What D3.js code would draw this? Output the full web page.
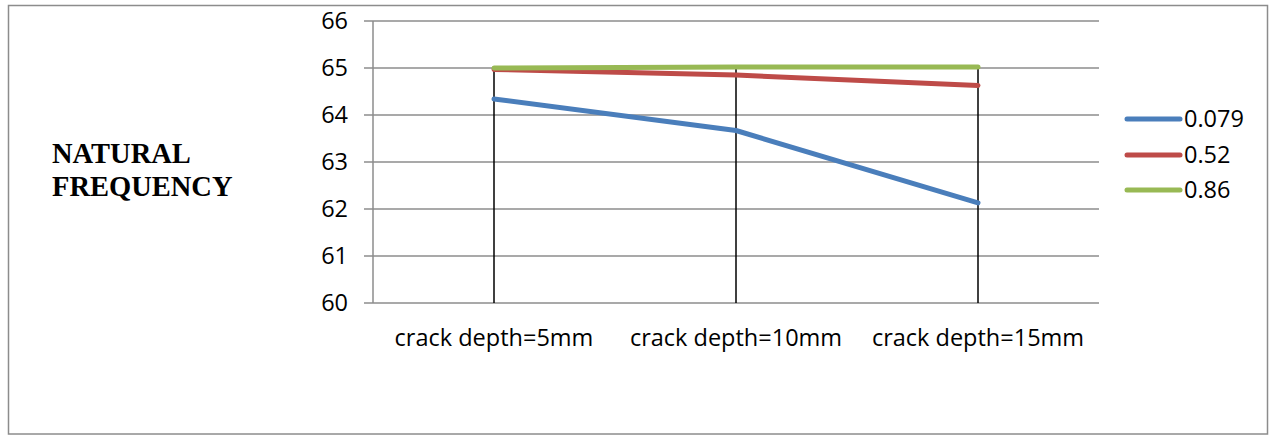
<!DOCTYPE html>
<html><head><meta charset="utf-8">
<script src="https://cdn.jsdelivr.net/npm/d3@7"></script>
<style>body{margin:0;background:#fff}svg{display:block}</style>
</head><body>
<svg id="c" width="1270" height="436"></svg>
<script>
const categories = ["crack depth=5mm", "crack depth=10mm", "crack depth=15mm"];
const seriesNames = ["0.079", "0.52", "0.86"];
const s0079 = [64.34, 63.67, 62.13];
const s052 = [64.97, 64.85, 64.63];
const s086 = [65.0, 65.02, 65.02];
const yTicks = [60, 61, 62, 63, 64, 65, 66];
const colors = ["#4a7ebb", "#be4b48", "#98b954"];
const series = [s0079, s052, s086];

(function () {
const svg = d3.select("#c");
const font = "'Open Sans', sans-serif";
const fs = 23.5;
svg.append("rect").attr("x", 8.5).attr("y", 5.5).attr("width", 1259).attr("height", 428.5)
  .attr("fill", "#fff").attr("stroke", "#8c8c8c").attr("stroke-width", 1.5);

const pL = 373, pR = 1099, pT = 21, pB = 303;
const x = d3.scaleBand().domain(categories).range([pL, pR]);
const y = d3.scaleLinear().domain([60, 66]).range([pB, pT]);

svg.append("g").selectAll("line").data(yTicks).join("line")
  .attr("x1", pL - 9).attr("x2", pR).attr("y1", d => y(d)).attr("y2", d => y(d))
  .attr("stroke", "#8c8c8c").attr("stroke-width", 1.5);
svg.append("line").attr("x1", pL).attr("x2", pL).attr("y1", pT).attr("y2", pB)
  .attr("stroke", "#8c8c8c").attr("stroke-width", 1.5);
svg.append("g").selectAll("text").data(yTicks).join("text")
  .attr("x", pL - 25).attr("y", d => y(d)).attr("dy", "0.35em").attr("text-anchor", "end")
  .attr("font-family", font).attr("font-size", fs).attr("fill", "#000").text(d => d);

svg.append("g").selectAll("line").data(categories).join("line")
  .attr("x1", d => x(d) + x.bandwidth() / 2).attr("x2", d => x(d) + x.bandwidth() / 2)
  .attr("y1", (d, i) => y(d3.max(series, s => s[i]))).attr("y2", pB)
  .attr("stroke", "#000").attr("stroke-width", 1.5);

svg.append("g").selectAll("text").data(categories).join("text")
  .attr("x", d => x(d) + x.bandwidth() / 2).attr("y", 338).attr("dy", "0.35em").attr("text-anchor", "middle")
  .attr("font-family", font).attr("font-size", fs).attr("fill", "#000").text(d => d);

const line = d3.line().x((d, i) => x(categories[i]) + x.bandwidth() / 2).y(d => y(d));
series.forEach((s, k) => {
  svg.append("path").attr("d", line(s)).attr("fill", "none").attr("stroke", colors[k])
    .attr("stroke-width", 5).attr("stroke-linecap", "round").attr("stroke-linejoin", "round");
});

const legY = [119, 155, 190];
seriesNames.forEach((n, k) => {
  svg.append("line").attr("x1", 1127).attr("x2", 1180).attr("y1", legY[k]).attr("y2", legY[k])
    .attr("stroke", colors[k]).attr("stroke-width", 5).attr("stroke-linecap", "round");
  svg.append("text").attr("x", 1184).attr("y", legY[k]).attr("dy", "0.35em")
    .attr("font-family", font).attr("font-size", fs).attr("fill", "#000").text(n);
});

const yt = svg.append("text").attr("font-family", "'Liberation Serif', serif").attr("font-weight", "bold")
  .attr("font-size", 28.5).attr("fill", "#000");
yt.append("tspan").attr("x", 52).attr("y", 163).text("NATURAL");
yt.append("tspan").attr("x", 52).attr("y", 196).text("FREQUENCY");
})();
</script>
</body></html>
